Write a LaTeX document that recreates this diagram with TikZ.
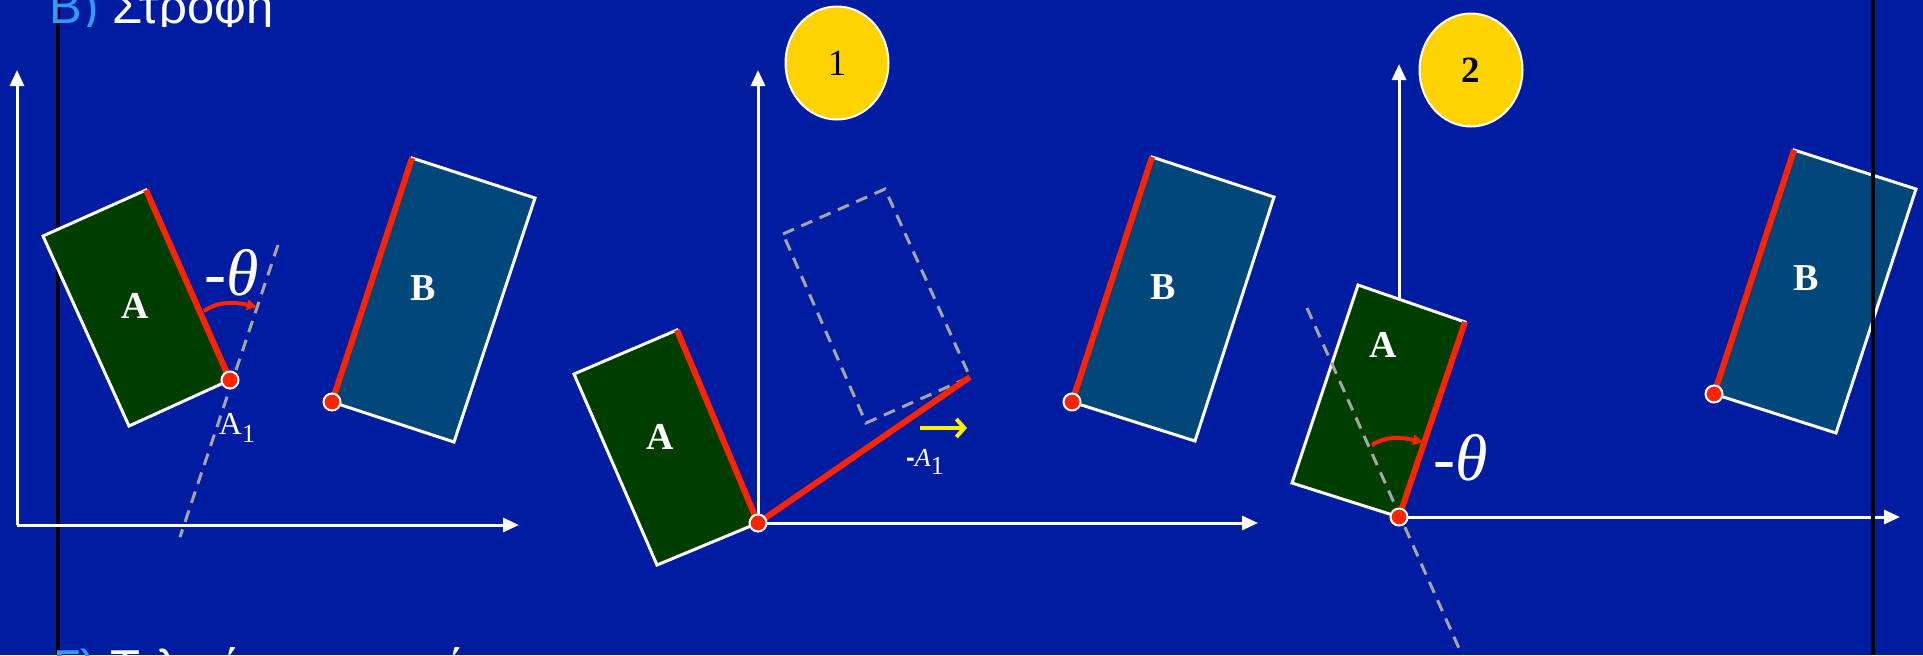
\documentclass[tikz,border=0pt]{standalone}
\usepackage{fontspec}
\setmainfont{Liberation Serif}
\newfontfamily\arialfont{Liberation Sans}
\usetikzlibrary{arrows.meta,shapes.geometric}
\definecolor{bg}{RGB}{0,28,160}
\definecolor{gA}{RGB}{0,62,0}
\definecolor{gB}{RGB}{2,71,122}
\definecolor{rd}{RGB}{255,36,0}
\definecolor{yl}{RGB}{255,211,0}
\definecolor{gy}{RGB}{165,165,165}
\definecolor{lb}{RGB}{51,153,255}
\definecolor{yarr}{RGB}{255,240,0}
\begin{document}
\begin{tikzpicture}[x=0.5pt,y=-0.5pt,
  axis/.style={draw=white, line width=1.5pt, -{Triangle[length=8pt,width=7pt]}},
  rectA/.style={fill=gA, draw=white, line width=1.5pt, line join=miter},
  rectB/.style={fill=gB, draw=white, line width=1.5pt, line join=miter},
  redge/.style={draw=rd, line width=3pt},
  guide/.style={draw=gy, line width=1.5pt, dash pattern=on 6pt off 4pt},
  dot/.style={circle, fill=rd, draw=white, line width=1pt, minimum size=8.5pt, inner sep=0pt},
  rarrow/.style={draw=rd, line width=2pt, -{Triangle[length=5pt,width=5pt]}},
  yarrow/.style={draw=yarr, line width=2pt, -{Straight Barb[length=4pt,width=9pt]}},
  lbl/.style={text=white, font=\fontsize{19}{19}\selectfont\bfseries, inner sep=0pt},
  badge/.style={ellipse, fill=yl, draw=white, line width=1pt, minimum width=51.5pt, minimum height=56.5pt, inner sep=0pt, font=\fontsize{18.5}{18.5}\selectfont},
  theta/.style={text=white, inner sep=0pt, font=\fontsize{33}{33}\selectfont},
  frame/.style={draw=black, line width=2pt}
]
\fill[bg] (0,0) rectangle (1923,655);
\useasboundingbox (0,0) rectangle (1923,655);

% left frame line
\coordinate (fl1) at (58,0); \coordinate (fl2) at (58,655);
\draw[frame] (fl1) -- (fl2);

% ---------- Panel 1 ----------
\coordinate (O1) at (17,525); \coordinate (Y1) at (17,70); \coordinate (X1) at (519,525);
\draw[axis] (O1) -- (Y1);
\draw[axis] (O1) -- (X1);
\coordinate (a1) at (43,236); \coordinate (b1) at (146,190);
\coordinate (c1) at (230,380); \coordinate (d1) at (129,426);
\filldraw[rectA] (a1) -- (b1) -- (c1) -- (d1) -- cycle;
\draw[redge] (b1) -- (c1);
\coordinate (g1s) at (278,245); \coordinate (g1e) at (180,537);
\draw[guide] (g1s) -- (g1e);
\coordinate (r1s) at (204,311); \coordinate (r1e) at (257,307);
\draw[rarrow] (r1s) .. controls (218,301) and (235,302) .. (r1e);
\node[theta] (th1) at (232,273) {-\textit{θ}};
\node[lbl] (A1lbl) at (135,306) {A};
\node[text=white, inner sep=0pt, font=\fontsize{16}{16}\selectfont] (A1sub) at (237,428) {A\raisebox{-4pt}{\fontsize{13}{13}\selectfont 1}};
\node[dot] (dA1) at (c1) {};

\coordinate (e1) at (332,402); \coordinate (f1) at (412,158);
\coordinate (h1) at (535,198); \coordinate (k1) at (454,442);
\filldraw[rectB] (e1) -- (f1) -- (h1) -- (k1) -- cycle;
\draw[redge] (e1) -- (f1);
\node[lbl] (B1lbl) at (423,288) {B};
\node[dot] (dB1) at (e1) {};

% ---------- Panel 2 ----------
\coordinate (O2) at (758,523); \coordinate (Y2) at (758,70); \coordinate (X2) at (1258,523);
\draw[axis] (O2) -- (Y2);
\draw[axis] (O2) -- (X2);
\coordinate (a2) at (574,374); \coordinate (b2) at (677,330);
\coordinate (d2) at (657,565);
\filldraw[rectA] (a2) -- (b2) -- (O2) -- (d2) -- cycle;
\draw[redge] (b2) -- (O2);
\coordinate (q1) at (783,234); \coordinate (q2) at (885,189);
\coordinate (q3) at (970,377); \coordinate (q4) at (866,423);
\draw[guide] (q1) -- (q2) -- (q3) -- (q4) -- cycle;
\draw[redge] (O2) -- (q3);
\coordinate (ya) at (920,428); \coordinate (yb) at (967,428);
\draw[yarrow] (ya) -- (yb);
\node[text=white, inner sep=0pt, font=\fontsize{13}{13}\selectfont] (mA1) at (925,462) {\textbf{\arialfont -}\textit{A}\raisebox{-4pt}{\fontsize{13}{13}\selectfont 1}};
\node[lbl] (A2lbl) at (660,437) {A};
\node[dot] (dO2) at (O2) {};
\node[badge] (c1b) at (837,63) {1};

\coordinate (e2) at (1072,402); \coordinate (f2) at (1152,157);
\coordinate (h2) at (1274,197); \coordinate (k2) at (1195,441);
\filldraw[rectB] (e2) -- (f2) -- (h2) -- (k2) -- cycle;
\draw[redge] (e2) -- (f2);
\node[lbl] (B2lbl) at (1163,287) {B};
\node[dot] (dB2) at (e2) {};

% ---------- Panel 3 ----------
\coordinate (O3) at (1399,517); \coordinate (Y3) at (1399,64); \coordinate (X3) at (1900,517);
\draw[axis] (O3) -- (Y3);
\draw[axis] (O3) -- (X3);
\coordinate (a3) at (1358,285); \coordinate (b3) at (1465,322);
\coordinate (d3) at (1292,483);
\filldraw[rectA] (a3) -- (b3) -- (O3) -- (d3) -- cycle;
\coordinate (g3s) at (1307,308); \coordinate (g3e) at (1462,655);
\draw[guide] (g3s) -- (g3e);
\draw[redge] (b3) -- (O3);
\coordinate (r3s) at (1372,445); \coordinate (r3e) at (1423,442);
\draw[rarrow] (r3s) .. controls (1386,436) and (1400,437) .. (r3e);
\node[theta] (th3) at (1461,458) {-\textit{θ}};
\node[lbl] (A3lbl) at (1383,345) {A};
\node[dot] (dO3) at (O3) {};
\node[badge, font=\fontsize{18.5}{18.5}\selectfont\bfseries] (c2b) at (1471,70) {2};

\coordinate (e3) at (1714,394); \coordinate (f3) at (1794,150);
\coordinate (h3) at (1916,189); \coordinate (k3) at (1836,433);
\filldraw[rectB] (e3) -- (f3) -- (h3) -- (k3) -- cycle;
\draw[redge] (e3) -- (f3);
\node[lbl] (B3lbl) at (1806,278) {B};
\node[dot] (dB3) at (e3) {};

% right frame line
\coordinate (fr1) at (1873,0); \coordinate (fr2) at (1873,655);
\draw[frame] (fr1) -- (fr2);

% ---------- cut-off titles ----------
\begin{scope}
\clip (0,0) rectangle (1923,26);
\node[anchor=base west, inner sep=0pt, text=white, font=\arialfont\fontsize{24.5}{24.5}\selectfont] (title) at (49,23.5) {\textcolor{lb}{Β)} Στροφή};
\end{scope}
\node[anchor=base west, inner sep=0pt, text=white, font=\arialfont\fontsize{24.5}{24.5}\selectfont] (subtitle) at (53,684) {\textcolor{lb}{Γ)} Τελική μεταφορά};
\end{tikzpicture}
\end{document}
